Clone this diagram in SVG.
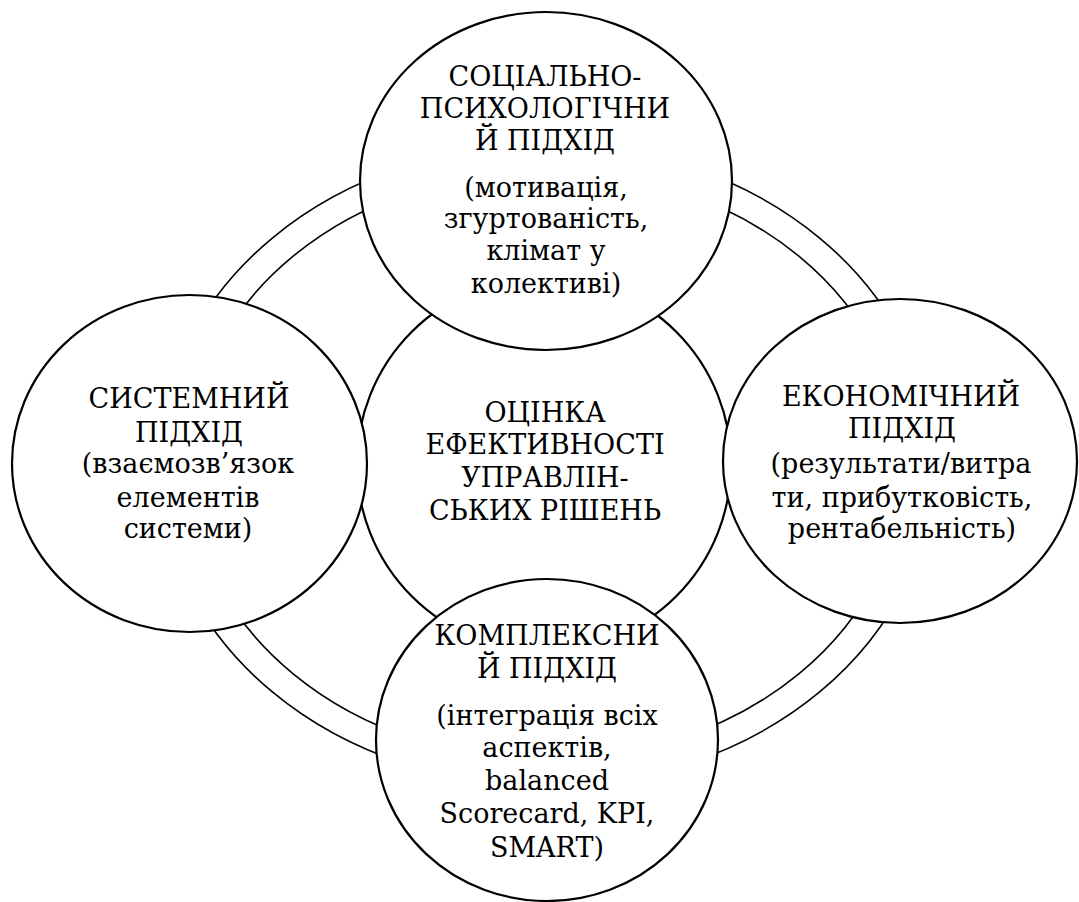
<svg xmlns="http://www.w3.org/2000/svg" width="1079" height="902" viewBox="0 0 1079 902">
<style>
.ring{fill:none;stroke:#000;stroke-width:1.6}
.node{fill:#fff;stroke:#000;stroke-width:2.2}
.t{font-family:'DejaVu Serif','Liberation Serif',serif;font-size:27px;fill:#000;text-anchor:middle}
</style>
<rect width="1079" height="902" fill="#fff"/>
<g id="connectors">
<ellipse class="ring" cx="546" cy="465" rx="387" ry="321"/>
<ellipse class="ring" cx="546" cy="465" rx="358" ry="295"/>
</g>
<g id="center">
<circle class="node" cx="544" cy="464" r="187"/>
<text class="t" x="545" y="421.7">ОЦІНКА</text>
<text class="t" x="545" y="454">ЕФЕКТИВНОСТІ</text>
<text class="t" x="545" y="486.7">УПРАВЛІН-</text>
<text class="t" x="545" y="520">СЬКИХ РІШЕНЬ</text>
</g>
<g id="top">
<ellipse class="node" cx="546" cy="181" rx="186" ry="169"/>
<text class="t" x="545" y="86">СОЦІАЛЬНО-</text>
<text class="t" x="545" y="118.3">ПСИХОЛОГІЧНИ</text>
<text class="t" x="545" y="150">Й ПІДХІД</text>
<text class="t" x="546" y="196.7">(мотивація,</text>
<text class="t" x="546" y="228.3">згуртованість,</text>
<text class="t" x="546" y="260">клімат у</text>
<text class="t" x="546" y="293">колективі)</text>
</g>
<g id="left">
<ellipse class="node" cx="189.5" cy="463.5" rx="177.5" ry="168.5"/>
<text class="t" x="189" y="408.3">СИСТЕМНИЙ</text>
<text class="t" x="189" y="441.7">ПІДХІД</text>
<text class="t" x="188" y="473.3">(взаємозв’язок</text>
<text class="t" x="188" y="506.7">елементів</text>
<text class="t" x="188" y="538.3">системи)</text>
</g>
<g id="right">
<ellipse class="node" cx="900" cy="461" rx="177" ry="162"/>
<text class="t" x="901" y="406">ЕКОНОМІЧНИЙ</text>
<text class="t" x="902" y="438.3">ПІДХІД</text>
<text class="t" x="901" y="472.7">(результати/витра</text>
<text class="t" x="902" y="506.7">ти, прибутковість,</text>
<text class="t" x="902" y="538.3">рентабельність)</text>
</g>
<g id="bottom">
<ellipse class="node" cx="547" cy="740" rx="171" ry="161"/>
<text class="t" x="547" y="645">КОМПЛЕКСНИ</text>
<text class="t" x="547" y="678.3">Й ПІДХІД</text>
<text class="t" x="547" y="725">(інтеграція всіх</text>
<text class="t" x="547" y="756.7">аспектів,</text>
<text class="t" x="547" y="790">balanced</text>
<text class="t" x="547" y="823.3">Scorecard, KPI,</text>
<text class="t" x="547" y="856.7">SMART)</text>
</g>
</svg>
